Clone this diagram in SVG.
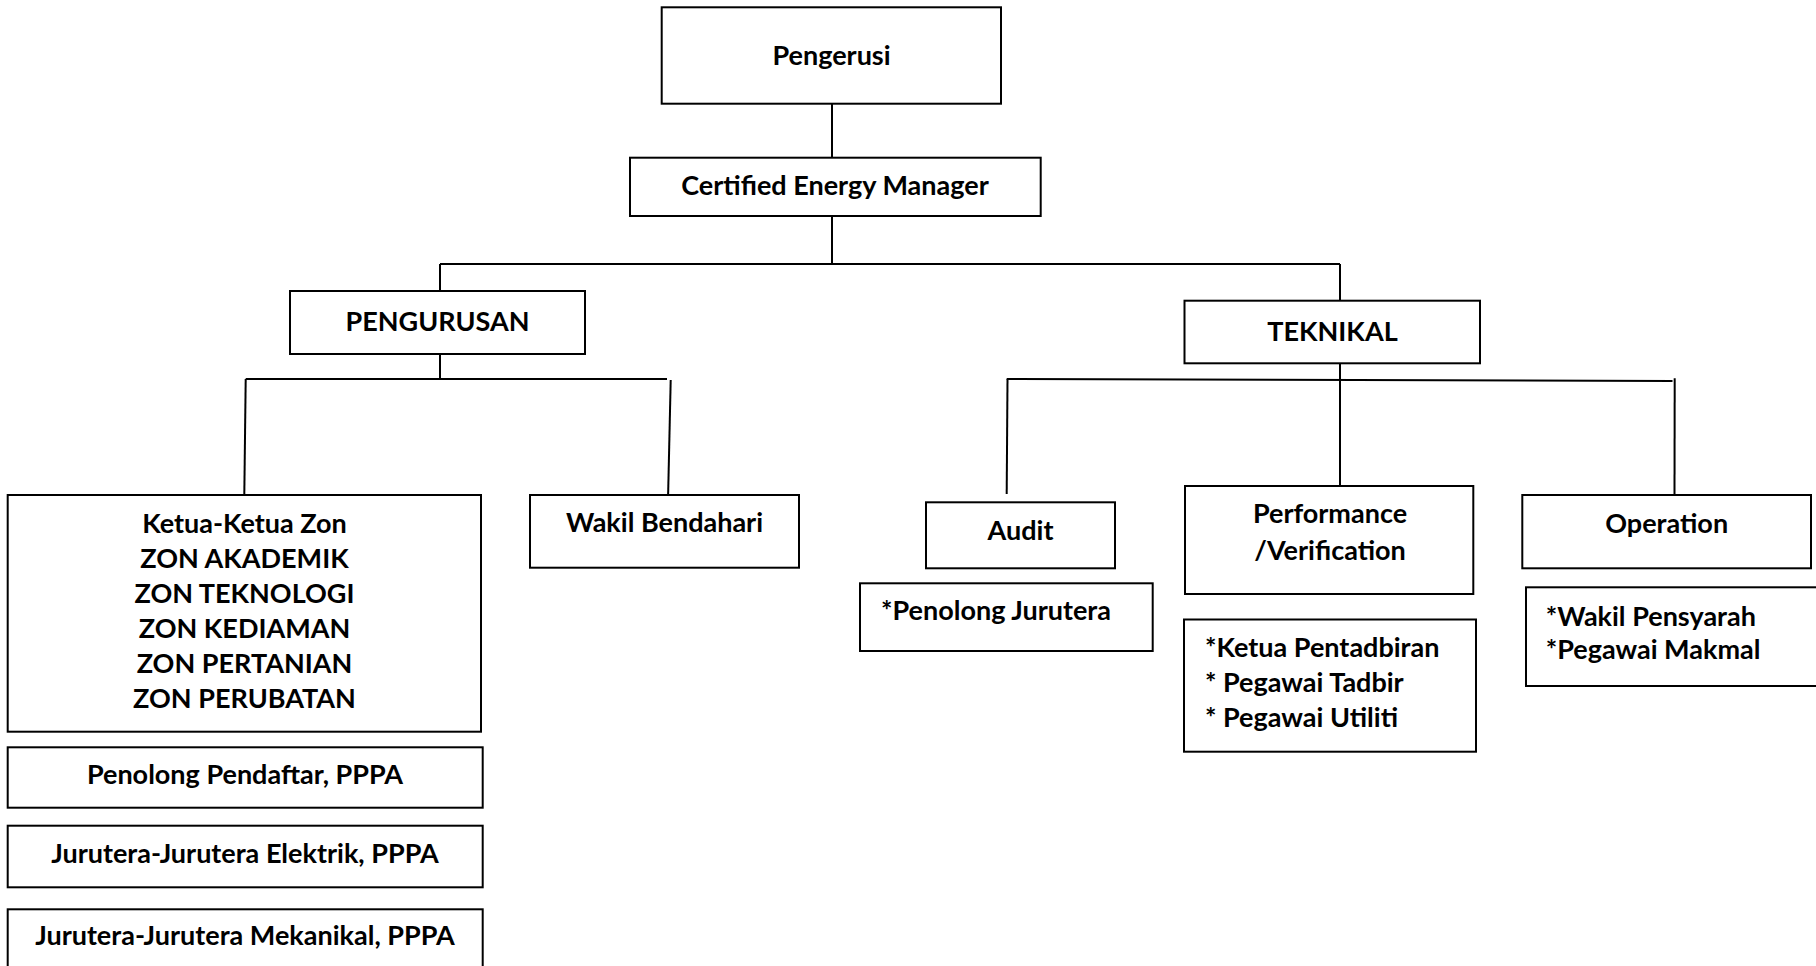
<svg xmlns="http://www.w3.org/2000/svg" width="1816" height="966" viewBox="0 0 1816 966">
<style>
rect.b{fill:#fff;stroke:#000;stroke-width:2}
text{font-family:Lato,"Liberation Sans",sans-serif;font-weight:bold;font-size:27px;fill:#000}
.c{text-anchor:middle}
#connectors line,#connectors polyline{stroke:#000;stroke-width:2;fill:none}
</style>
<rect width="1816" height="966" fill="#fff"/>
<g id="connectors">
<line x1="832" y1="104" x2="832" y2="158"/>
<line x1="832" y1="216" x2="832" y2="264"/>
<line x1="440" y1="264" x2="1340" y2="264"/>
<line x1="440" y1="264" x2="440" y2="291"/>
<line x1="1340" y1="264" x2="1340" y2="301"/>
<line x1="440" y1="354" x2="440" y2="379"/>
<line x1="245.7" y1="379" x2="667" y2="379"/>
<line x1="245.7" y1="379" x2="244.3" y2="495"/>
<line x1="670.7" y1="380" x2="668" y2="500"/>
<line x1="1340" y1="363" x2="1340" y2="486"/>
<line x1="1006.7" y1="379" x2="1672.5" y2="381"/>
<line x1="1007.5" y1="379" x2="1006.7" y2="494"/>
<line x1="1674.7" y1="378.3" x2="1674.5" y2="495"/>
</g>
<g id="pengerusi"><rect class="b" x="661.7" y="7.3" width="339.3" height="96.4"/><text class="c" x="831.5" y="65">Pengerusi</text></g>
<g id="cem"><rect class="b" x="630" y="157.7" width="410.7" height="58.3"/><text class="c" x="835" y="194.5">Certified Energy Manager</text></g>
<g id="pengurusan"><rect class="b" x="290" y="291" width="295" height="63"/><text class="c" x="437.5" y="331">PENGURUSAN</text></g>
<g id="teknikal"><rect class="b" x="1184.5" y="300.7" width="295.5" height="62.6"/><text class="c" x="1332.5" y="340.7">TEKNIKAL</text></g>
<g id="wakil-bendahari"><rect class="b" x="530" y="495" width="269" height="72.7"/><text class="c" x="664.5" y="532.3">Wakil Bendahari</text></g>
<g id="audit"><rect class="b" x="926" y="502.3" width="189" height="66"/><text class="c" x="1020.5" y="540">Audit</text></g>
<g id="performance"><rect class="b" x="1185" y="486" width="288.3" height="108"/><text class="c" x="1330" y="523.3">Performance</text><text class="c" x="1330" y="560">/Verification</text></g>
<g id="operation"><rect class="b" x="1522.3" y="495" width="288.7" height="73.3"/><text class="c" x="1666.7" y="532.7">Operation</text></g>
<g id="penolong-jurutera"><rect class="b" x="860" y="583.3" width="292.7" height="67.7"/><text x="881" y="620">*Penolong Jurutera</text></g>
<g id="ketua-pentadbiran"><rect class="b" x="1184" y="619.5" width="292" height="132.2"/><text x="1205" y="656.7">*Ketua Pentadbiran</text><text x="1205" y="691.7">* Pegawai Tadbir</text><text x="1205" y="726.7">* Pegawai Utiliti</text></g>
<g id="wakil-pensyarah"><rect class="b" x="1526" y="587.3" width="300" height="98.7"/><text x="1545.7" y="626">*Wakil Pensyarah</text><text x="1545.7" y="659.3">*Pegawai Makmal</text></g>
<g id="zon"><rect class="b" x="7.7" y="495" width="473.3" height="236.7"/>
<text class="c" x="244.5" y="532.7">Ketua-Ketua Zon</text>
<text class="c" x="244.5" y="567.7">ZON AKADEMIK</text>
<text class="c" x="244.5" y="602.7">ZON TEKNOLOGI</text>
<text class="c" x="244.5" y="638.3">ZON KEDIAMAN</text>
<text class="c" x="244.5" y="673.3">ZON PERTANIAN</text>
<text class="c" x="244.5" y="708.3">ZON PERUBATAN</text></g>
<g id="penolong-pendaftar"><rect class="b" x="7.7" y="747.3" width="475" height="60.4"/><text class="c" x="245" y="784.3">Penolong Pendaftar, PPPA</text></g>
<g id="elektrik"><rect class="b" x="7.7" y="825.7" width="475" height="61.6"/><text class="c" x="245" y="862.7">Jurutera-Jurutera Elektrik, PPPA</text></g>
<g id="mekanikal"><rect class="b" x="7.7" y="909.3" width="475" height="70"/><text class="c" x="245" y="945">Jurutera-Jurutera Mekanikal, PPPA</text></g>
</svg>
